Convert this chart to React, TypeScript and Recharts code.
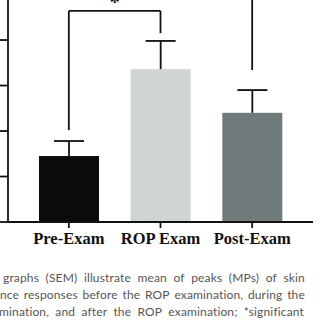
import { BarChart, Bar, Cell, XAxis, YAxis, ReferenceLine } from 'recharts';

const categories = ['Pre-Exam', 'ROP Exam', 'Post-Exam'];
const means = [1.45, 3.36, 2.4];
const sems = [0.33, 0.62, 0.5];
const barColors = ['#0b0b0b', '#cfd4d4', '#6f7b7b'];
const yTicks = [0, 1, 2, 3, 4];

// significance bracket Pre-Exam -> ROP Exam, and the leg rising from Post-Exam
const bracketLeftFrom = 2.02;
const bracketTop = 4.64;
const bracketRightTo = 4.15;
const postLegFrom = 3.34;
const yMax = 4.88;

const captionLines = [
  'graphs (SEM) illustrate mean of peaks (MPs) of skin',
  'nce responses before the ROP examination, during the',
  'mination, and after the ROP examination; *significant',
];

const data = categories.map((name, i) => ({ name, mean: means[i], sem: sems[i] }));

const INK = '#111';

function BarWithError(props: any) {
  const { x, y, width, height, fill, payload } = props;
  const perUnit = payload.mean ? height / payload.mean : 0;
  const top = y - payload.sem * perUnit;
  const cx = x + width / 2;
  return (
    <g>
      <rect x={x} y={y} width={width} height={height} fill={fill} />
      <line x1={cx} y1={y} x2={cx} y2={top} stroke={INK} strokeWidth={1.8} />
      <line x1={cx - 15} y1={top} x2={cx + 15} y2={top} stroke={INK} strokeWidth={1.8} />
    </g>
  );
}

export default function App() {
  const line = { stroke: INK, strokeWidth: 1.8 };
  return (
    <div style={{ position: 'absolute', left: 0, top: 0, width: 320, height: 320, background: '#fff', overflow: 'hidden' }}>
      <BarChart width={320} height={260} data={data} margin={{ top: 0, right: 7, left: 0, bottom: 0 }}>
        <XAxis
          dataKey="name"
          padding={{ left: 15, right: 15 }}
          height={38}
          tickSize={6}
          tickMargin={4}
          axisLine={line}
          tickLine={line}
          tick={{ fontSize: 16.5, fontWeight: 'bold', fill: INK, fontFamily: 'Liberation Serif, serif' }}
          interval={0}
        />
        <YAxis
          width={8}
          domain={[0, yMax]}
          ticks={yTicks}
          tickSize={8}
          tickFormatter={() => ''}
          axisLine={line}
          tickLine={line}
        />
        <Bar dataKey="mean" barSize={60} shape={BarWithError} isAnimationActive={false}>
          {data.map((d, i) => (
            <Cell key={d.name} fill={barColors[i]} />
          ))}
        </Bar>
        <ReferenceLine segment={[{ x: categories[0], y: bracketLeftFrom }, { x: categories[0], y: bracketTop }]} {...line} />
        <ReferenceLine
          segment={[{ x: categories[0], y: bracketTop }, { x: categories[1], y: bracketTop }]}
          {...line}
          label={{ value: '*', position: 'top', offset: 2, fontSize: 20, fontWeight: 'bold', fill: INK, fontFamily: 'Liberation Serif, serif' }}
        />
        <ReferenceLine segment={[{ x: categories[1], y: bracketTop }, { x: categories[1], y: bracketRightTo }]} {...line} />
        <ReferenceLine segment={[{ x: categories[2], y: postLegFrom }, { x: categories[2], y: yMax }]} {...line} />
      </BarChart>
      {captionLines.map((t, i) => (
        <div
          key={i}
          style={{
            position: 'absolute',
            left: i === 0 ? 3 : i === 1 ? 0 : -1,
            width: i === 0 ? 302 : 305,
            top: 269 + i * 17,
            display: 'flex',
            justifyContent: 'space-between',
            whiteSpace: 'nowrap',
            fontFamily: 'Lato, sans-serif',
            fontSize: 12,
            letterSpacing: 0.15,
            lineHeight: '17px',
            color: '#555',
          }}
        >
          {t.split(' ').map((w, j) => (
            <span key={j}>{w}</span>
          ))}
        </div>
      ))}
    </div>
  );
}
